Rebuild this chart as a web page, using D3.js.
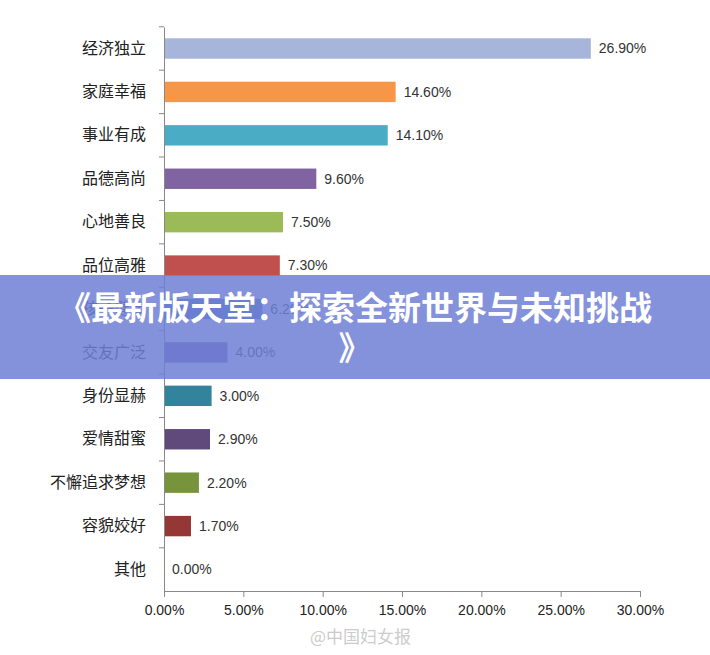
<!DOCTYPE html>
<html><head><meta charset="utf-8">
<script src="https://cdn.jsdelivr.net/npm/d3@7"></script>
<style>
body{margin:0;background:#fff;font-family:"Noto Sans CJK SC","Liberation Sans",sans-serif;}
</style></head>
<body><div id="chart"></div>
<script>
// chart data
var categories = ["经济独立","家庭幸福","事业有成","品德高尚","心地善良","品位高雅","孩子健康","交友广泛","身份显赫","爱情甜蜜","不懈追求梦想","容貌姣好","其他"];
var values = [26.9, 14.6, 14.1, 9.6, 7.5, 7.3, 6.2, 4.0, 3.0, 2.9, 2.2, 1.7, 0.0];
var colors = ["#a6b5d9","#f79646","#4bacc6","#8064a2","#9bbb59","#c0504d","#4f81bd","#7a5fa0","#31849b","#604a7b","#77933c","#953735","#888"];
var xTicks = [0, 5, 10, 15, 20, 25, 30];
var title = ["《最新版天堂：探索全新世界与未知挑战", "》"];

var width = 710, height = 655;
var svg = d3.select("#chart").append("svg").attr("width", width).attr("height", height);

var x = d3.scaleLinear().domain([0, 30]).range([164, 640]);
var y = d3.scaleBand().domain(categories).range([27, 591]).paddingInner(0.53).paddingOuter(0.26);

var g = svg.append("g");
g.selectAll("rect.bar").data(values).enter().append("rect")
    .attr("class", "bar")
    .attr("x", x(0))
    .attr("y", function(d, i) { return y(categories[i]); })
    .attr("width", function(d) { return x(d) - x(0); })
    .attr("height", y.bandwidth())
    .attr("fill", function(d, i) { return colors[i]; });

g.selectAll("text.val").data(values).enter().append("text")
    .attr("x", function(d) { return x(d) + 8; })
    .attr("y", function(d, i) { return y(categories[i]) + y.bandwidth() / 2; })
    .attr("dy", "0.35em")
    .attr("font-size", 14).attr("fill", "#333")
    .attr("font-family", "Liberation Sans, sans-serif")
    .text(function(d) { return d.toFixed(2) + "%"; });

// y axis with category labels
var yAxis = d3.axisLeft(y).tickSize(0).tickPadding(18);
var ya = svg.append("g").attr("transform", "translate(" + x(0) + ",0)").call(yAxis);
ya.select(".domain").attr("stroke", "#888");
ya.selectAll("text").attr("font-size", 16).attr("fill", "#222").attr("font-family", "Noto Sans CJK SC");
// small tick marks between categories
ya.selectAll("line.sep").data(categories).enter().append("line")
    .attr("class", "sep")
    .attr("x1", -5).attr("x2", 0)
    .attr("y1", function(d) { return y(d) - y.step() * y.paddingInner() / 2; })
    .attr("y2", function(d) { return y(d) - y.step() * y.paddingInner() / 2; })
    .attr("stroke", "#888");

var xAxis = d3.axisBottom(x).tickValues(xTicks).tickSize(6).tickPadding(8)
    .tickFormat(function(d) { return d.toFixed(2) + "%"; });
var xa = svg.append("g").attr("transform", "translate(0,591)").call(xAxis);
xa.select(".domain").attr("stroke", "#888");
xa.selectAll("line").attr("stroke", "#888");
xa.selectAll("text").attr("font-size", 14).attr("fill", "#222").attr("font-family", "Liberation Sans, sans-serif");

// watermark
svg.append("text").attr("x", 310).attr("y", 643).attr("font-size", 17).attr("fill", "#ccc")
    .text("@中国妇女报");

// banner overlay
svg.append("rect").attr("x", 0).attr("y", 275).attr("width", width).attr("height", 104)
    .attr("fill", "#6f7fd6").attr("opacity", 0.85);
svg.selectAll("text.title").data(title).enter().append("text")
    .attr("x", width / 2).attr("y", function(d, i) { return 320 + i * 40; })
    .attr("text-anchor", "middle").attr("font-size", 33).attr("font-weight", "bold")
    .attr("fill", "#fff").attr("font-family", "Noto Sans CJK SC")
    .text(function(d) { return d; });
</script></body></html>
